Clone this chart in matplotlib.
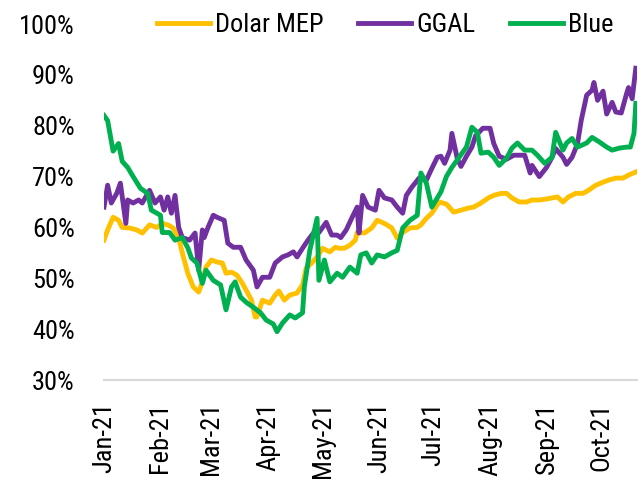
import numpy as np
import pandas as pd
import matplotlib
matplotlib.use("Agg")
import matplotlib.pyplot as plt
import matplotlib.dates as mdates

# days counted from 2021-01-01, values in %
mep_days = [0, 2, 5, 8, 10, 14, 18, 21, 25, 29, 32, 35, 38, 41, 43, 46, 49, 52, 54, 56,
            59, 62, 65, 67, 70, 73, 76, 78, 81, 83, 84, 87, 91, 94, 96, 99, 102, 106, 109, 111,
            114, 117, 120, 124, 127, 129, 132, 135, 138, 139, 143, 147, 150, 154, 158, 161, 164, 168, 172, 174,
            177, 180, 184, 188, 192, 196, 200, 203, 207, 211, 214, 218, 221, 224, 228, 232, 235, 239, 243, 246,
            249, 252, 255, 259, 263, 266, 270, 274, 277, 281, 285, 288, 292]
mep_vals = [57.5, 59.5, 62, 61.4, 60, 59.9, 59.5, 58.9, 60.5, 60, 60.8, 60.5, 59.9, 57.9, 55, 51, 48.3, 47.3, 49.3, 52.2,
            53.6, 53.2, 53, 51, 51.2, 50.6, 49, 47.7, 45.7, 42.4, 42.4, 45.7, 45.1, 46.7, 47.5, 45.7, 46.7, 47.1, 48.7, 52,
            53, 54.2, 55.9, 55.2, 56.1, 55.9, 55.9, 56.5, 57.5, 59, 58.9, 59.9, 61.4, 60.8, 59.9, 57.9, 59, 59.9, 60, 60.5,
            61.8, 62.8, 65, 64.6, 63, 63.4, 63.8, 64, 64.8, 65.8, 66.3, 66.7, 66.7, 65.8, 65, 65, 65.4, 65.4, 65.6, 65.8,
            66, 65, 66, 66.7, 66.7, 67.3, 68.3, 68.9, 69.3, 69.7, 69.7, 70.3, 70.9]

ggal_days = [0, 2, 4, 7, 9, 12, 13, 16, 19, 21, 25, 28, 31, 33, 35, 37, 39, 41, 43, 47,
             50, 52, 54, 55, 57, 60, 62, 66, 68, 71, 75, 78, 82, 84, 87, 91, 94, 98, 101, 104,
             106, 109, 112, 115, 118, 122, 125, 128, 130, 133, 136, 139, 140, 142, 145, 149, 151, 154, 158, 161,
             164, 166, 169, 173, 177, 180, 183, 185, 187, 190, 191, 194, 196, 199, 202, 204, 208, 212, 214, 217,
             221, 225, 231, 234, 235, 239, 243, 246, 248, 252, 254, 257, 260, 262, 265, 268, 269, 271, 274, 276,
             279, 281, 284, 287, 288, 290, 292]
ggal_vals = [64, 68.3, 64.8, 66.7, 68.7, 60.8, 65.4, 64.8, 65.4, 64.8, 67.3, 64.8, 66, 63.4, 66, 62.8, 66.3, 60, 58, 57.5,
             58.9, 51.6, 59.5, 58, 59.9, 62.4, 62, 61.4, 56.9, 56.1, 56.1, 53.6, 51.6, 48.3, 50.2, 50.2, 53, 54.2, 54.6, 55.2,
             54.2, 55.9, 57.5, 58.9, 59, 61, 58.5, 58.5, 58, 59.5, 61.8, 64, 58.9, 66.3, 64, 63.4, 67.3, 65.8, 65.4, 64,
             62.8, 66.3, 67.9, 69.7, 69.3, 71.6, 73.8, 74, 72.6, 75.2, 78.5, 73.5, 72, 74, 75.8, 78, 79.5, 79.5, 76.5, 74,
             73.4, 74.2, 74.2, 70.7, 72.2, 70, 71.8, 73.8, 75.5, 73.8, 72.4, 73.8, 76.5, 81, 86, 87, 88.5, 85, 86.8, 82.3,
             84.6, 82.7, 82.5, 86.4, 87.5, 85.3, 91.3]

blue_days = [0, 2, 5, 8, 10, 13, 16, 20, 24, 26, 31, 32, 36, 39, 43, 46, 48, 51, 54, 56,
             60, 64, 67, 70, 72, 75, 78, 82, 86, 89, 93, 95, 98, 102, 105, 109, 110, 113, 117, 118,
             121, 124, 128, 131, 135, 139, 141, 144, 147, 150, 154, 158, 161, 164, 168, 172, 174, 177, 180, 185,
             188, 191, 195, 199, 202, 205, 207, 211, 214, 217, 221, 224, 227, 231, 235, 238, 242, 246, 248, 252,
             254, 257, 260, 265, 268, 272, 276, 279, 283, 287, 289, 291, 292]
blue_vals = [82, 81, 75, 76.5, 73, 71.8, 70, 67.7, 66.7, 63.4, 62.4, 59, 59, 57.5, 58, 56, 54, 53, 49, 51.6,
             49.6, 48.7, 43.8, 48.3, 49.3, 46.3, 45.3, 44.3, 43.2, 41.8, 41, 39.5, 41.2, 42.8, 42.2, 43.2, 48.3, 55.5, 61.8, 49.6,
             53.6, 49.3, 51, 50.2, 52.2, 51, 54.6, 55, 53, 54.6, 54.2, 55, 55.5, 59.9, 61.4, 62.4, 70.7, 68.7, 64, 67,
             70, 71.8, 73.8, 75.8, 79.7, 78.7, 74.6, 74.8, 73.8, 72.2, 73.6, 75.6, 76.6, 75.2, 75.2, 74.2, 72.6, 73.8, 78.7, 75.2,
             76.6, 77.5, 75.8, 76.6, 77.7, 76.8, 75.8, 75.2, 75.6, 75.8, 75.8, 78.5, 84.4]

start = pd.Timestamp("2021-01-01")


def to_dates(days):
    return start + pd.to_timedelta(days, unit="D")


plt.rcParams["font.family"] = ["Roboto Condensed", "Liberation Sans Narrow", "Roboto", "DejaVu Sans"]

fig = plt.figure(figsize=(6.38, 4.82), dpi=100)
ax = fig.add_axes([0.163, 0.2116, 0.835, 0.7386])

lw = 3.5
ax.plot(to_dates(mep_days), mep_vals, color="#FFC000", lw=lw, label="Dolar MEP")
ax.plot(to_dates(ggal_days), ggal_vals, color="#7030A0", lw=lw, label="GGAL")
ax.plot(to_dates(blue_days), blue_vals, color="#00B050", lw=lw, label="Blue")

ax.set_xlim(start, start + pd.Timedelta(days=292.5))
ax.set_ylim(30, 100)
ax.set_yticks(np.arange(30, 101, 10))
ax.set_yticklabels([f"{v}%" for v in range(30, 101, 10)])

ax.xaxis.set_major_locator(mdates.MonthLocator())
ax.xaxis.set_major_formatter(mdates.DateFormatter("%b-%y"))
ax.tick_params(axis="x", length=0, labelrotation=90, labelsize=19, pad=16)
ax.tick_params(axis="y", length=0, labelsize=19, pad=21)

for s in ["top", "right", "left"]:
    ax.spines[s].set_visible(False)
ax.spines["bottom"].set_color("#D9D9D9")
ax.spines["bottom"].set_linewidth(1.5)

fig.legend(loc="center", bbox_to_anchor=(0.604, 0.948), ncol=3, frameon=False,
           fontsize=19, handlelength=2.0, handletextpad=0.2, columnspacing=1.3,
           borderaxespad=0)

fig.savefig("out.png", dpi=100)
